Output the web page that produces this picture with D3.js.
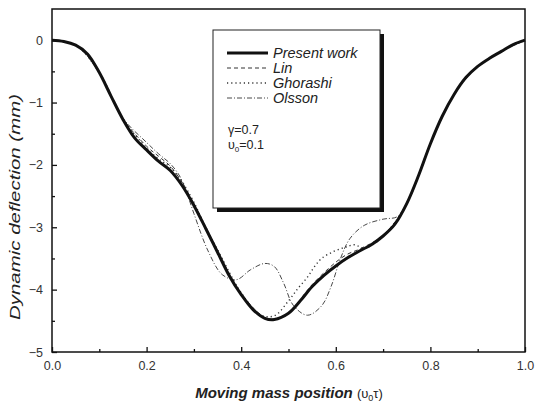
<!DOCTYPE html>
<html><head><meta charset="utf-8">
<script src="https://cdn.jsdelivr.net/npm/d3@7"></script>
<style>body{margin:0;background:#fff}svg{display:block}text{font-family:"Liberation Sans",Arial,sans-serif}</style>
</head><body><svg id="c" width="536" height="403"></svg>
<script>
const xTicks=[0,0.2,0.4,0.6,0.8,1.0];
const yTicks=[0,-1,-2,-3,-4,-5];
const presentX=[0,0.025,0.05,0.075,0.1,0.125,0.15,0.175,0.2,0.225,0.25,0.275,0.3,0.325,0.35,0.375,0.4,0.425,0.45,0.47,0.5,0.525,0.55,0.575,0.6,0.625,0.65,0.675,0.7,0.725,0.75,0.775,0.8,0.825,0.85,0.875,0.9,0.925,0.95,0.975,1.0];
const presentY=[0,-0.02,-0.08,-0.22,-0.52,-0.9,-1.27,-1.57,-1.76,-1.94,-2.09,-2.33,-2.65,-3.02,-3.4,-3.78,-4.08,-4.32,-4.46,-4.48,-4.38,-4.18,-3.95,-3.77,-3.62,-3.49,-3.38,-3.28,-3.14,-2.95,-2.62,-2.17,-1.66,-1.22,-0.87,-0.6,-0.42,-0.29,-0.18,-0.07,0];
const linX=[0,0.05,0.1,0.15,0.2,0.225,0.25,0.275,0.3,0.325,0.35,0.4,0.45,0.47,0.5,0.55,0.6,0.625,0.65,0.7,0.75,0.8,0.85,0.9,0.95,1.0];
const linY=[0,-0.08,-0.52,-1.26,-1.7,-1.86,-2.02,-2.28,-2.62,-3.0,-3.38,-4.06,-4.45,-4.47,-4.37,-3.92,-3.56,-3.43,-3.35,-3.13,-2.62,-1.66,-0.87,-0.42,-0.18,0];
const ghoX=[0,0.05,0.1,0.15,0.2,0.225,0.25,0.275,0.3,0.325,0.35,0.4,0.44,0.47,0.5,0.52,0.54,0.555,0.57,0.595,0.62,0.64,0.66,0.7,0.75,0.8,0.85,0.9,0.95,1.0];
const ghoY=[0,-0.08,-0.52,-1.26,-1.73,-1.9,-2.04,-2.27,-2.6,-3.0,-3.36,-4.05,-4.4,-4.42,-4.18,-3.98,-3.8,-3.63,-3.5,-3.39,-3.32,-3.28,-3.34,-3.14,-2.62,-1.66,-0.87,-0.42,-0.18,0];
const olsX=[0,0.05,0.1,0.15,0.2,0.225,0.25,0.27,0.285,0.3,0.33,0.36,0.39,0.42,0.45,0.47,0.49,0.51,0.54,0.57,0.59,0.61,0.63,0.66,0.7,0.73,0.75,0.8,0.85,0.9,0.95,1.0];
const olsY=[0,-0.08,-0.52,-1.25,-1.64,-1.82,-1.98,-2.18,-2.45,-2.78,-3.38,-3.76,-3.84,-3.68,-3.58,-3.63,-3.9,-4.25,-4.41,-4.26,-3.95,-3.5,-3.18,-2.97,-2.87,-2.83,-2.62,-1.66,-0.87,-0.42,-0.18,0];
const legendLabels=["Present work","Lin","Ghorashi","Olsson"];

const svg=d3.select("#c");
const L=52,R=525,T=9,B=352;
const x=d3.scaleLinear().domain([0,1]).range([L,R]);
const y=d3.scaleLinear().domain([-5,0.5]).range([B,T]);

// frame
svg.append("rect").attr("x",L).attr("y",T).attr("width",R-L).attr("height",B-T).attr("fill","none").attr("stroke","#111").attr("stroke-width",1.5);

// axes
const xa=svg.append("g").attr("transform",`translate(0,${B})`).call(d3.axisBottom(x).tickValues(xTicks).tickSize(-5).tickFormat(d3.format(".1f")).tickPadding(9));
const xm=svg.append("g").attr("transform",`translate(0,${B})`).call(d3.axisBottom(x).tickValues(d3.range(0.1,1,0.2)).tickSize(-3).tickFormat(""));
const ya=svg.append("g").attr("transform",`translate(${L},0)`).call(d3.axisLeft(y).tickValues(yTicks).tickSize(-5).tickFormat(d=>d===0?"0":d3.format("d")(d)).tickPadding(9));
const ym=svg.append("g").attr("transform",`translate(${L},0)`).call(d3.axisLeft(y).tickValues(d3.range(-4.5,0.5,1)).tickSize(-3).tickFormat(""));
[xa,xm,ya,ym].forEach(g=>{g.select(".domain").remove();g.selectAll("line").attr("stroke","#111").attr("stroke-width",1.3);g.selectAll("text").attr("font-size",12.5).attr("fill","#333");});

// curves
const line=d3.line().x(d=>x(d[0])).y(d=>y(d[1])).curve(d3.curveCatmullRom.alpha(0.5));
const zip=(a,b)=>a.map((v,i)=>[v,b[i]]);
const styles=[
 {data:zip(linX,linY),dash:"4,3",w:1},
 {data:zip(ghoX,ghoY),dash:"1.2,3",w:1.4},
 {data:zip(olsX,olsY),dash:"5,2,1,2",w:0.9},
];
styles.forEach(s=>svg.append("path").attr("d",line(s.data)).attr("fill","none").attr("stroke","#333").attr("stroke-width",s.w).attr("stroke-dasharray",s.dash));
svg.append("path").attr("d",line(zip(presentX,presentY))).attr("fill","none").attr("stroke","#111").attr("stroke-width",3);

// legend
const lg=svg.append("g");
lg.append("rect").attr("x",217).attr("y",34).attr("width",167).attr("height",178).attr("fill","#111");
lg.append("rect").attr("x",213).attr("y",30).attr("width",167).attr("height",178).attr("fill","#fff").attr("stroke","#222").attr("stroke-width",1);
const legStyle=[{dash:null,w:3},{dash:"4,3",w:1},{dash:"1.2,3",w:1.4},{dash:"5,2,1,2",w:0.9}];
legendLabels.forEach((t,i)=>{
  const yy=53+i*15;
  lg.append("line").attr("x1",227).attr("x2",268).attr("y1",yy).attr("y2",yy).attr("stroke",i===0?"#111":"#333").attr("stroke-width",legStyle[i].w).attr("stroke-dasharray",legStyle[i].dash);
  lg.append("text").attr("x",273).attr("y",yy+5).attr("font-size",14.5).attr("font-style","italic").attr("fill","#222").text(t);
});
const g1=lg.append("text").attr("x",228).attr("y",134).attr("font-size",12.5).attr("fill","#222");
g1.append("tspan").text("γ=0.7");
const g2=lg.append("text").attr("x",228).attr("y",149).attr("font-size",12.5).attr("fill","#222");
g2.append("tspan").text("υ");
g2.append("tspan").attr("font-size",8).attr("dy",3).text("0");
g2.append("tspan").attr("dy",-3).text("=0.1");

// axis titles
const xt=svg.append("text").attr("x",289).attr("y",398).attr("text-anchor","middle").attr("font-size",15).attr("fill","#222");
xt.append("tspan").attr("font-weight","bold").attr("font-style","italic").text("Moving mass position ");
xt.append("tspan").attr("font-size",13).text("(υ");
xt.append("tspan").attr("font-size",9).attr("dy",3).text("0");
xt.append("tspan").attr("font-size",13).attr("dy",-3).text("τ)");
svg.append("text").attr("transform","translate(20,207) rotate(-90)").attr("text-anchor","middle").attr("font-size",15).attr("font-style","italic").attr("fill","#222")
  .attr("textLength",226).attr("lengthAdjust","spacingAndGlyphs").text("Dynamic deflection (mm)");
</script></body></html>
